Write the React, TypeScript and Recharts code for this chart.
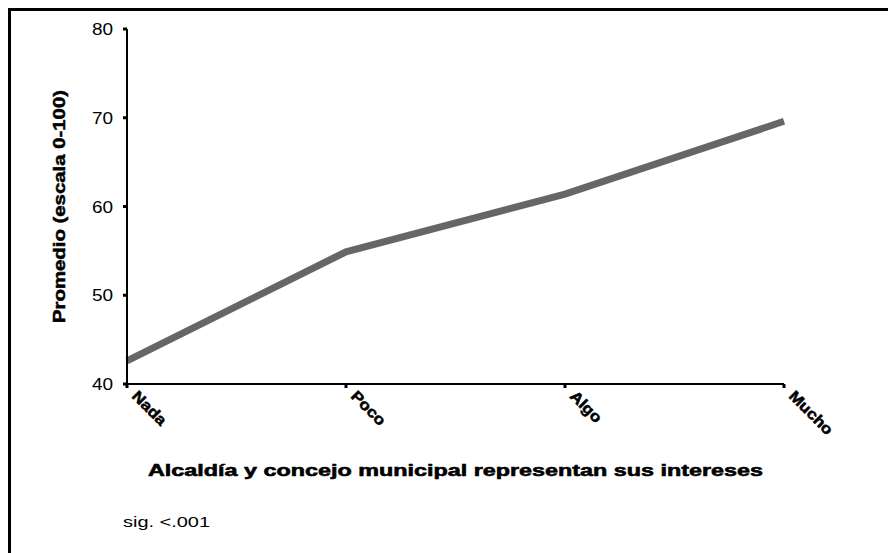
import React from "react";
import { LineChart, Line, XAxis, YAxis } from "recharts";

const categories = ["Nada", "Poco", "Algo", "Mucho"];
const promedio = [42.6, 54.9, 61.4, 69.6];
const yTicks = [40, 50, 60, 70, 80];

const data = categories.map((c, i) => ({ cat: c, promedio: promedio[i] }));

const font = "'Liberation Sans', Arial, sans-serif";

function XTick(props: any) {
  const { x, y, payload } = props;
  return (
    <g transform={`translate(${x + 4},${y + 7})`}>
      <text
        transform="rotate(45) scale(1.18,1.05)"
        textAnchor="start"
        fontFamily={font}
        fontWeight="bold"
        fontSize={14.5}
        fill="#000"
        stroke="#000"
        strokeWidth={0.5}
      >
        {payload.value}
      </text>
    </g>
  );
}

function YTick(props: any) {
  const { x, y, payload } = props;
  return (
    <g transform={`translate(${x},${y})`}>
      <text
        transform="scale(1.15,1)"
        textAnchor="end"
        dy={6}
        fontFamily={font}
        fontSize={16.5}
        fill="#000"
      >
        {payload.value}
      </text>
    </g>
  );
}

export default function App() {
  return (
    <div style={{ position: "absolute", left: 0, top: 0, width: 888, height: 553, background: "#fff" }}>
      <div
        style={{
          position: "absolute",
          left: 8,
          top: 8,
          width: 880,
          height: 545,
          borderLeft: "3px solid #000",
          borderTop: "3px solid #000",
        }}
      />
      <LineChart
        width={888}
        height={553}
        data={data}
        margin={{ top: 29, right: 104, bottom: 109, left: 67 }}
        style={{ position: "absolute", left: 0, top: 0, fontFamily: font }}
      >
        <XAxis
          dataKey="cat"
          height={60}
          stroke="#000"
          strokeWidth={2}
          tickSize={4}
          tickLine={{ stroke: "#000", strokeWidth: 3 }}
          tick={<XTick />}
          interval={0}
        />
        <YAxis
          width={60}
          domain={[40, 80]}
          ticks={yTicks}
          stroke="#000"
          strokeWidth={2}
          tickSize={4}
          tickMargin={10}
          tickLine={{ stroke: "#000", strokeWidth: 3 }}
          tick={<YTick />}
          allowDataOverflow
        />
        <Line
          type="linear"
          dataKey="promedio"
          stroke="#666666"
          strokeWidth={7}
          dot={false}
          activeDot={false}
          isAnimationActive={false}
        />
      </LineChart>
      <svg
        width={888}
        height={553}
        style={{ position: "absolute", left: 0, top: 0, pointerEvents: "none" }}
      >
        <text
          transform="translate(65,206.5) rotate(-90)"
          textAnchor="middle"
          fontFamily={font}
          fontWeight="bold"
          fontSize={16}
          textLength={233}
          lengthAdjust="spacingAndGlyphs"
          fill="#000"
          stroke="#000"
          strokeWidth={0.5}
        >
          Promedio (escala 0-100)
        </text>
        <text
          x={455.5}
          y={476}
          textAnchor="middle"
          fontFamily={font}
          fontWeight="bold"
          fontSize={17}
          textLength={615}
          lengthAdjust="spacingAndGlyphs"
          fill="#000"
          stroke="#000"
          strokeWidth={0.6}
        >
          Alcaldía y concejo municipal representan sus intereses
        </text>
        <text
          x={123}
          y={527}
          fontFamily={font}
          fontSize={15}
          textLength={87}
          lengthAdjust="spacingAndGlyphs"
          fill="#000"
        >
          sig. &lt;.001
        </text>
      </svg>
    </div>
  );
}
